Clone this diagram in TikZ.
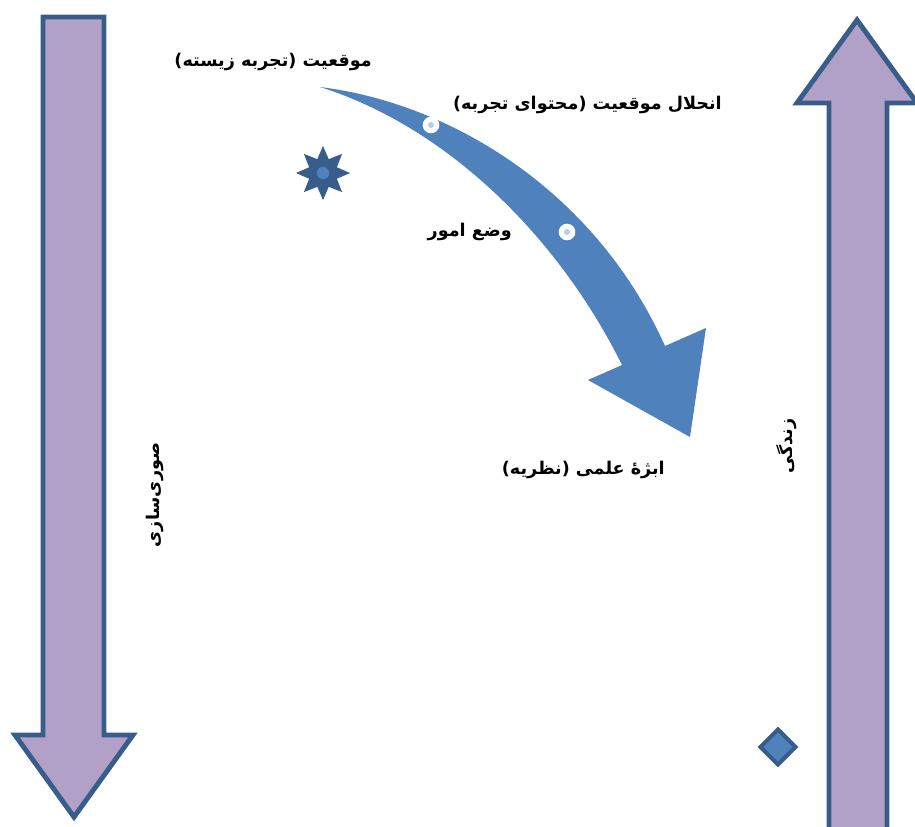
\documentclass[tikz,border=0pt]{standalone}
\usepackage{fontspec}
\usetikzlibrary{shapes.geometric}
\newfontfamily\fafont[Script=Arabic]{DejaVu Sans}
\TeXXeTstate=1
\definecolor{lav}{HTML}{B2A1C7}
\definecolor{edge}{HTML}{385D8A}
\definecolor{sky}{HTML}{4F81BD}
\definecolor{pale}{HTML}{B9CDE5}
\newcommand{\fa}[1]{\beginR #1\endR}
\tikzset{
  bigarrow/.style={draw=edge,line width=4.2pt,fill=lav,line join=miter},
  lbl/.style={font=\fafont\bfseries\fontsize{15}{18}\selectfont,inner sep=0pt},
  dot/.style={circle,fill=white,inner sep=0pt,minimum size=0.5cm,
    path picture={\fill[pale] (path picture bounding box.center) circle (0.09cm);}},
}
\begin{document}
\begin{tikzpicture}[x=0.03cm,y=-0.03cm]
    \useasboundingbox (0,0) rectangle (915,826);
    % the two long arrows
    \draw[bigarrow] (43,17) -- (104,17) -- (104,735) -- (133,735) -- (74,817)
        -- (15,735) -- (43,735) -- cycle;
    \draw[bigarrow] (829,845) -- (829,103) -- (797,103) -- (857,20) -- (917,103)
        -- (887,103) -- (887,845) -- cycle;
    % the bent arrow
    \fill[sky] (320,87) .. controls (450,103) and (595,190) .. (665,346)
        -- (706,328) -- (690,437) -- (588,380) -- (622,365)
        .. controls (560,240) and (450,128) .. cycle;
    \node[dot] (d1) at (431,125) {};
    \node[dot] (d2) at (567,232) {};

    \node[star,star points=8,star point ratio=1.8,minimum size=1.62cm,inner sep=0pt,fill=edge] (burst) at (323,173) {};
    \node[circle,fill=sky,minimum size=0.37cm,inner sep=0pt] (core) at (burst.center) {};
    \node[diamond,draw=edge,line width=3.4pt,fill=sky,minimum size=1.1cm,inner sep=0pt] (gem) at (778,747) {};

    \node[lbl,anchor=east] (situ) at (372,62) {\fa{موقعیت \hbox{(}تجربه زیسته\hbox{)}}};
    \node[lbl,anchor=east] (dissol) at (722,105) {\fa{انحلال موقعیت \hbox{(}محتوای تجربه\hbox{)}}};
    \node[lbl,anchor=east] (state) at (512,232) {\fa{وضع امور}};
    \node[lbl,anchor=east] (object) at (665,470) {\fa{ابژهٔ علمی \hbox{(}نظریه\hbox{)}}};
    \node[lbl,rotate=90] (formal) at (155,495) {\fa{صوری‌سازی}};
    \node[lbl,rotate=90] (life) at (787,446) {\fa{زندگی}};
\end{tikzpicture}
\end{document}
